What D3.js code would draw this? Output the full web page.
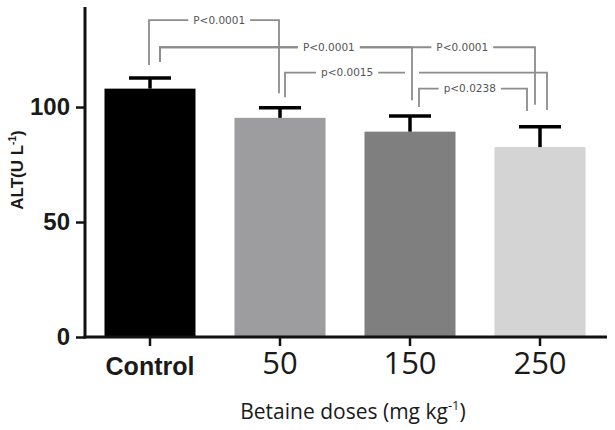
<!DOCTYPE html>
<html>
<head>
<meta charset="utf-8">
<script src="https://cdn.jsdelivr.net/npm/d3@7"></script>
<style>
  body { margin: 0; background: #fff; }
  svg { display: block; }
</style>
</head>
<body>
<svg id="chart"></svg>
<script>
// data
const groups = ['Control', '50', '150', '250'];
const means = [108, 95.3, 89.3, 82.6];
const sems = [4.6, 4.4, 6.8, 8.8];
const barColors = ['#000000', '#9d9da0', '#7f7f7f', '#d4d4d4'];
const yTicks = [0, 50, 100];

// significance brackets (heights in ALT units), drawn in this order
const brackets = [
  { a: '50', b: '250', top: 115, endA: 104.3, endB: 98.7, label: 'p<0.0015', at: 0.237 },
  { a: 'Control', b: '150', top: 126, endA: 119.6, endB: 103, label: 'P<0.0001', at: 0.67, gap: true },
  { a: 'Control', b: '250', top: 126, endA: 119.6, endB: 101, label: 'P<0.0001', at: 0.806 },
  { a: 'Control', b: '50', top: 137.8, endA: 118.3, endB: 106, label: 'P<0.0001', at: 0.54 },
  { a: '150', b: '250', top: 108, endA: 100, endB: 98.3, label: 'p<0.0238', at: 0.47 },
];
// small sideways nudges of the bracket legs, px
const legNudge = [[5, 7], [10, 2], [10, -5], [-1, -1], [9, -13]];

const width = 615, height = 430;
const margin = { top: 7, left: 85, right: 8, bottom: 93 };

const svg = d3.select('#chart')
  .attr('width', width)
  .attr('height', height);

const x = d3.scaleBand()
  .domain(groups)
  .range([margin.left, 605])
  .paddingInner(0.3)
  .paddingOuter(0.15);

const y = d3.scaleLinear()
  .domain([0, 143.5])
  .range([height - margin.bottom, margin.top]);

const cx = g => x(g) + x.bandwidth() / 2;

// bars
svg.append('g')
  .selectAll('rect')
  .data(groups)
  .enter()
  .append('rect')
  .attr('x', d => x(d))
  .attr('y', (d, i) => y(means[i]))
  .attr('width', x.bandwidth())
  .attr('height', (d, i) => y(0) - y(means[i]))
  .attr('fill', (d, i) => barColors[i]);

// error bars (upper only)
const err = svg.append('g')
  .attr('stroke', '#000')
  .attr('stroke-width', 3.5);
groups.forEach((g, i) => {
  err.append('line')
    .attr('x1', cx(g)).attr('x2', cx(g))
    .attr('y1', y(means[i])).attr('y2', y(means[i] + sems[i]));
  err.append('line')
    .attr('x1', cx(g) - 21).attr('x2', cx(g) + 21)
    .attr('y1', y(means[i] + sems[i])).attr('y2', y(means[i] + sems[i]));
});

// brackets
const br = svg.append('g');
brackets.forEach((b, i) => {
  const xa = cx(b.a) + legNudge[i][0];
  const xb = cx(b.b) + legNudge[i][1];
  const path = `M${xa},${y(b.endA)}V${y(b.top)}H${xb}V${y(b.endB)}`;
  if (b.gap) {
    br.append('line')
      .attr('x1', xb).attr('x2', xb)
      .attr('y1', y(b.top) + 4).attr('y2', y(b.endB) - 4)
      .attr('stroke', '#fff')
      .attr('stroke-width', 14);
  }
  br.append('path')
    .attr('d', path)
    .attr('fill', 'none')
    .attr('stroke', '#8c8c8c')
    .attr('stroke-width', 1.8);
});

// bracket labels with white gaps behind
const labels = svg.append('g');
brackets.forEach((b, i) => {
  const xa = cx(b.a) + legNudge[i][0];
  const xb = cx(b.b) + legNudge[i][1];
  const lx = xa + (xb - xa) * b.at;
  const t = labels.append('text')
    .attr('x', lx)
    .attr('y', y(b.top))
    .attr('dy', '0.36em')
    .attr('text-anchor', 'middle')
    .attr('font-family', 'DejaVu Sans, sans-serif')
    .attr('font-size', 10.5)
    .attr('fill', '#555')
    .text(b.label);
  const bb = t.node().getBBox();
  labels.insert('rect', () => t.node())
    .attr('x', bb.x - 5)
    .attr('y', y(b.top) - 3)
    .attr('width', bb.width + 10)
    .attr('height', 6)
    .attr('fill', '#fff');
});

// y axis
const yAxis = svg.append('g')
  .attr('transform', `translate(${margin.left},0)`)
  .call(d3.axisLeft(y).tickValues(yTicks).tickSize(9).tickPadding(6));
yAxis.select('.domain').remove();
yAxis.selectAll('.tick line').attr('stroke', '#111').attr('stroke-width', 2.5);
yAxis.selectAll('.tick text')
  .attr('font-family', 'Liberation Sans, Arial, sans-serif')
  .attr('font-weight', 'bold')
  .attr('font-size', 24)
  .attr('fill', '#1a1a1a');
svg.append('line')
  .attr('x1', margin.left).attr('x2', margin.left)
  .attr('y1', y(143.5)).attr('y2', y(0) + 1.5)
  .attr('stroke', '#111')
  .attr('stroke-width', 3);

// x axis
const xAxis = svg.append('g')
  .attr('transform', `translate(0,${y(0)})`)
  .call(d3.axisBottom(x).tickSize(9).tickPadding(4));
xAxis.select('.domain').remove();
xAxis.selectAll('.tick line').attr('stroke', '#111').attr('stroke-width', 2.5);
xAxis.selectAll('.tick text')
  .attr('font-family', d => (d === 'Control' ? 'Liberation Sans, Arial, sans-serif' : 'Open Sans, sans-serif'))
  .attr('font-weight', d => (d === 'Control' ? 'bold' : 'normal'))
  .attr('font-size', d => (d === 'Control' ? 25 : 31))
  .attr('dy', d => (d === 'Control' ? '0.98em' : '0.78em'))
  .attr('fill', '#1a1a1a');
svg.append('line')
  .attr('x1', margin.left - 1.5).attr('x2', 607)
  .attr('y1', y(0)).attr('y2', y(0))
  .attr('stroke', '#111')
  .attr('stroke-width', 3);

// axis titles
const xt = svg.append('text')
  .attr('x', 353)
  .attr('y', 419)
  .attr('text-anchor', 'middle')
  .attr('font-family', 'Open Sans, sans-serif')
  .attr('font-size', 21)
  .attr('fill', '#1a1a1a');
xt.append('tspan').text('Betaine doses (mg kg');
xt.append('tspan').attr('font-size', 13).attr('dy', -9).text('-1');
xt.append('tspan').attr('dy', 9).text(')');

const yt = svg.append('text')
  .attr('transform', 'translate(23,170) rotate(-90)')
  .attr('text-anchor', 'middle')
  .attr('font-family', 'Liberation Sans, Arial, sans-serif')
  .attr('font-weight', 'bold')
  .attr('font-size', 17)
  .attr('fill', '#1a1a1a');
yt.append('tspan').text('ALT(U L');
yt.append('tspan').attr('font-size', 10).attr('dy', -7).text('-1');
yt.append('tspan').attr('dy', 7).text(')');
</script>
</body>
</html>
